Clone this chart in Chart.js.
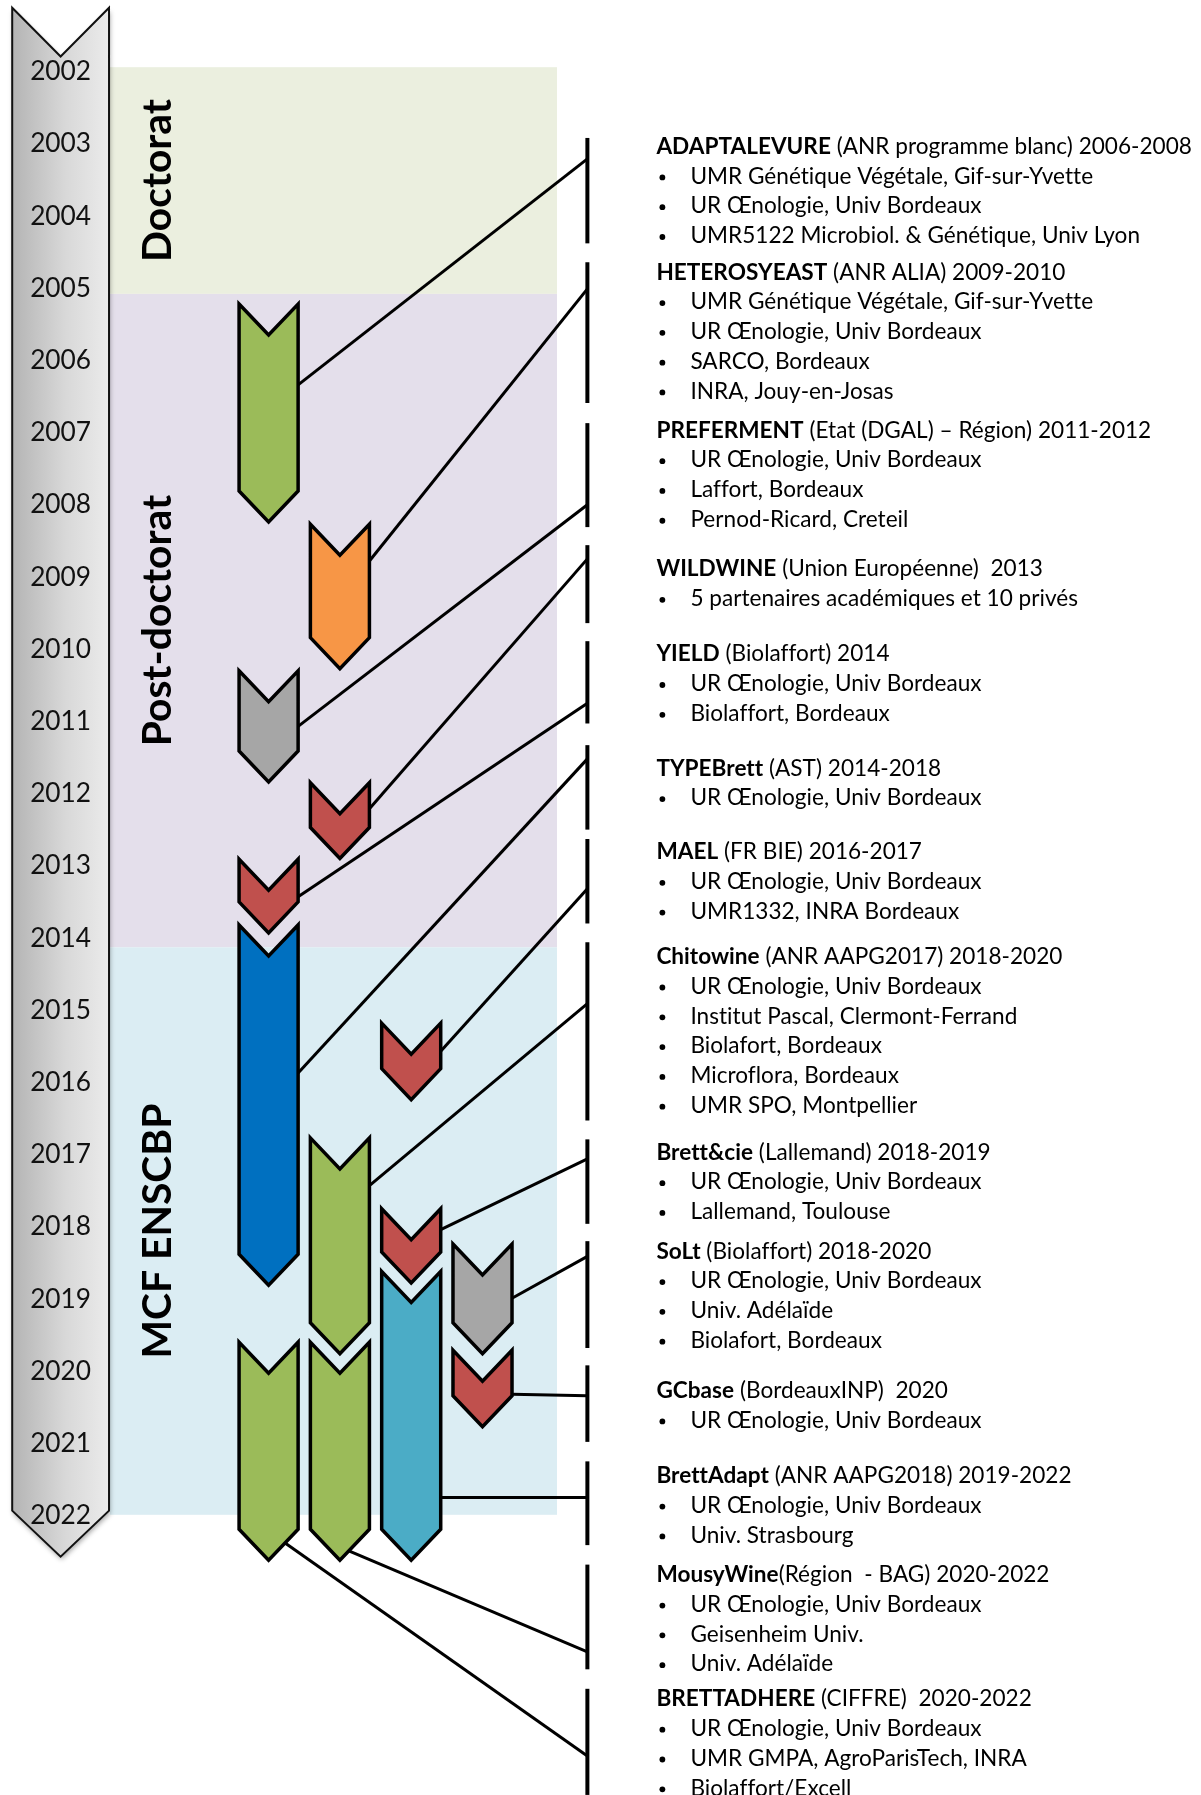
<!DOCTYPE html>
<html><head><meta charset="utf-8">
<script src="https://cdn.jsdelivr.net/npm/chart.js@4"></script>
<style>html,body{margin:0;padding:0;background:#fff}canvas{display:block}</style>
</head><body>
<canvas id="c" width="1201" height="1795" style="width:1201px;height:1795px"></canvas>
<script>
// ---------- data ----------
const yearTicks = [2002,2003,2004,2005,2006,2007,2008,2009,2010,2011,2012,2013,2014,2015,2016,2017,2018,2019,2020,2021,2022];

const phaseNames = ['Doctorat', 'Post-doctorat', 'MCF ENSCBP'];
const phaseFrom  = [2001.95, 2005.09, 2014.14];
const phaseTo    = [2005.09, 2014.14, 2022.0];

const projectNames = ['ADAPTALEVURE','HETEROSYEAST','PREFERMENT','WILDWINE','YIELD','TYPEBrett','MAEL','Chitowine','Brett&cie','SoLt','GCbase','BrettAdapt','MousyWine','BRETTADHERE'];
const projectInfo = [
  ' (ANR programme blanc) 2006-2008',
  ' (ANR ALIA) 2009-2010',
  ' (Etat (DGAL) \u2013 Région) 2011-2012',
  ' (Union Européenne)  2013',
  ' (Biolaffort) 2014',
  ' (AST) 2014-2018',
  ' (FR BIE) 2016-2017',
  ' (ANR AAPG2017) 2018-2020',
  ' (Lallemand) 2018-2019',
  ' (Biolaffort) 2018-2020',
  ' (BordeauxINP)  2020',
  ' (ANR AAPG2018) 2019-2022',
  '(Région  - BAG) 2020-2022',
  ' (CIFFRE)  2020-2022'
];
const projectPartners = [
  ['UMR Génétique Végétale, Gif-sur-Yvette','UR Œnologie, Univ Bordeaux','UMR5122 Microbiol. & Génétique, Univ Lyon'],
  ['UMR Génétique Végétale, Gif-sur-Yvette','UR Œnologie, Univ Bordeaux','SARCO, Bordeaux','INRA, Jouy-en-Josas'],
  ['UR Œnologie, Univ Bordeaux','Laffort, Bordeaux','Pernod-Ricard, Creteil'],
  ['5 partenaires académiques et 10 privés'],
  ['UR Œnologie, Univ Bordeaux','Biolaffort, Bordeaux'],
  ['UR Œnologie, Univ Bordeaux'],
  ['UR Œnologie, Univ Bordeaux','UMR1332, INRA Bordeaux'],
  ['UR Œnologie, Univ Bordeaux','Institut Pascal, Clermont-Ferrand','Biolafort, Bordeaux','Microflora, Bordeaux','UMR SPO, Montpellier'],
  ['UR Œnologie, Univ Bordeaux','Lallemand, Toulouse'],
  ['UR Œnologie, Univ Bordeaux','Univ. Adélaïde','Biolafort, Bordeaux'],
  ['UR Œnologie, Univ Bordeaux'],
  ['UR Œnologie, Univ Bordeaux','Univ. Strasbourg'],
  ['UR Œnologie, Univ Bordeaux','Geisenheim Univ.','Univ. Adélaïde'],
  ['UR Œnologie, Univ Bordeaux','UMR GMPA, AgroParisTech, INRA','Biolaffort/Excell']
];
// bar lane (column) and extent in years (top corners -> bottom tip)
const barLane = [0,1,0,1,0,0,2,1,2,3,3,2,1,0];
const barFrom = [2005.23,2008.28,2010.31,2011.86,2012.92,2013.83,2015.19,2016.78,2017.76,2018.25,2019.72,2018.63,2019.61,2019.61];
const barTo   = [2008.25,2010.28,2011.85,2012.91,2013.94,2018.82,2016.25,2019.77,2018.79,2019.77,2020.78,2022.63,2022.63,2022.63];
const barKind = ['green','orange','gray','red','red','blue','red','green','red','gray','red','teal','green','green'];
// connector: year where it leaves the bar, year where it meets the bracket
const linkFrom = [2006.35,2008.79,2011.08,2012.22,2013.44,2015.88,2015.58,2017.44,2018.05,2019.00,2020.33,2021.76,2022.50,2022.39];
const linkTo   = [2003.22,2005.02,2008.01,2008.76,2010.76,2011.53,2013.33,2014.92,2017.07,2018.42,2020.35,2021.76,2023.90,2025.34];
// bracket segment extent (years)
const segFrom = [2002.93,2004.65,2006.88,2008.57,2009.90,2011.34,2012.64,2014.07,2016.80,2018.21,2019.93,2021.26,2022.69,2024.41];
const segTo   = [2004.39,2006.60,2008.32,2009.65,2011.04,2012.51,2013.81,2016.54,2017.97,2019.69,2020.99,2022.42,2024.14,2025.88];
// title line position (years)
const titleAt = [2003.05,2004.79,2006.98,2008.90,2010.08,2011.66,2012.82,2014.27,2016.98,2018.35,2020.28,2021.46,2022.83,2024.55];

// ---------- styles ----------
const kindColor = {green:'#9BBB59', orange:'#F79646', gray:'#A6A6A6', red:'#C0504D', blue:'#0070C0', teal:'#4BACC6'};
const phaseColor = ['#EBEFDF', '#E4DFEB', '#DBEDF3'];
const FONT = 'Lato, "Open Sans", sans-serif';

function fitSize(ctx, text, weight, target) {
  ctx.font = weight + ' 100px ' + FONT;
  return 100 * target / ctx.measureText(text).width;
}

const diagram = {
  id: 'diagram',
  afterDraw(chart) {
    const ctx = chart.ctx, X = chart.scales.x, Y = chart.scales.y;
    const px = v => X.getPixelForValue(v), py = v => Y.getPixelForValue(v);
    const half = px(0.414) - px(0);
    const depth = 31;
    ctx.save();

    // phase bands
    phaseNames.forEach((n, i) => {
      ctx.fillStyle = phaseColor[i];
      const t = py(phaseFrom[i]), b = py(phaseTo[i]);
      ctx.fillRect(px(-2.224), t, px(4.045) - px(-2.224), b - t);
    });

    // phase labels (rotated)
    const rs = fitSize(ctx, 'Doctorat', 'bold', 163);
    ctx.fillStyle = '#000';
    phaseNames.forEach((n, i) => {
      ctx.save();
      ctx.translate(px(-1.551), py((phaseFrom[i] + phaseTo[i]) / 2));
      ctx.rotate(-Math.PI / 2);
      ctx.textAlign = 'center'; ctx.textBaseline = 'middle';
      ctx.font = 'bold ' + rs + 'px ' + FONT;
      ctx.fillText(n, 0, 0);
      ctx.restore();
    });

    // timeline arrow
    const L = px(-3.596), R = px(-2.238), C = (L + R) / 2;
    const tTop = py(2001.126), tNotch = py(2001.803), tEnd = py(2021.943), tTip = py(2022.579);
    ctx.save();
    ctx.beginPath();
    ctx.moveTo(L, tTop); ctx.lineTo(C, tNotch); ctx.lineTo(R, tTop);
    ctx.lineTo(R, tEnd); ctx.lineTo(C, tTip); ctx.lineTo(L, tEnd); ctx.closePath();
    const g = ctx.createLinearGradient(L, 0, R, 0);
    g.addColorStop(0, '#B4B4B4'); g.addColorStop(0.55, '#D8D8D8'); g.addColorStop(1, '#EBEBEB');
    ctx.shadowColor = 'rgba(0,0,0,0.35)'; ctx.shadowBlur = 5; ctx.shadowOffsetX = 1; ctx.shadowOffsetY = 3;
    ctx.fillStyle = g; ctx.fill();
    ctx.shadowColor = 'transparent';
    ctx.lineWidth = 2; ctx.strokeStyle = '#111'; ctx.lineJoin = 'miter'; ctx.stroke();
    ctx.restore();

    // year labels
    const ys = fitSize(ctx, '2002', 'normal', 61);
    ctx.font = ys + 'px ' + FONT; ctx.fillStyle = '#111';
    ctx.textAlign = 'center'; ctx.textBaseline = 'middle';
    yearTicks.forEach(y => ctx.fillText(String(y), C, py(y) + 1));

    // connectors
    const lineX = px(4.471);
    ctx.strokeStyle = '#000'; ctx.lineWidth = 3; ctx.lineCap = 'butt';
    projectNames.forEach((n, i) => {
      const c = px(barLane[i]), B = py(barTo[i]);
      const y0 = py(linkFrom[i]);
      let x0 = c + half;
      if (y0 > B - depth) x0 = c + half * (B - y0) / depth;
      ctx.beginPath(); ctx.moveTo(x0, y0); ctx.lineTo(lineX, py(linkTo[i])); ctx.stroke();
    });

    // chevron bars
    ctx.lineWidth = 3.5; ctx.lineJoin = 'miter'; ctx.strokeStyle = '#000';
    projectNames.forEach((n, i) => {
      const c = px(barLane[i]), T = py(barFrom[i]), B = py(barTo[i]);
      ctx.beginPath();
      ctx.moveTo(c - half, T); ctx.lineTo(c, T + depth); ctx.lineTo(c + half, T);
      ctx.lineTo(c + half, B - depth); ctx.lineTo(c, B); ctx.lineTo(c - half, B - depth);
      ctx.closePath();
      ctx.fillStyle = kindColor[barKind[i]]; ctx.fill(); ctx.stroke();
    });

    // bracket segments
    ctx.lineWidth = 4;
    projectNames.forEach((n, i) => {
      ctx.beginPath(); ctx.moveTo(lineX, py(segFrom[i])); ctx.lineTo(lineX, py(segTo[i])); ctx.stroke();
    });

    // texts (a tiny letter spacing stops Lato's "ti"/"ff" ligatures)
    if ('letterSpacing' in ctx) ctx.letterSpacing = '0.02px';
    const fs = fitSize(ctx, 'UR Œnologie, Univ Bordeaux', 'normal', 291);
    const LINE_H = 29.8;
    const tx = lineX + 69, bx = lineX + 75, ptx = lineX + 103;
    ctx.textAlign = 'left'; ctx.textBaseline = 'middle'; ctx.fillStyle = '#000';
    projectNames.forEach((name, i) => {
      const y = py(titleAt[i]);
      ctx.font = 'bold ' + fs + 'px ' + FONT;
      ctx.fillText(name, tx, y);
      const w = ctx.measureText(name).width;
      ctx.font = fs + 'px ' + FONT;
      ctx.fillText(projectInfo[i], tx + w, y);
      projectPartners[i].forEach((p, j) => {
        const yy = y + (j + 1) * LINE_H;
        ctx.beginPath(); ctx.arc(bx, yy + 1, 2.9, 0, Math.PI * 2); ctx.fill();
        ctx.fillText(p, ptx, yy);
      });
    });
    ctx.restore();
  }
};

const yTop = 2002 - 70.8 / 72.2;
const yBot = 2002 + (1795 - 70.8) / 72.2;
const xMin = -268.6 / 71.3, xMax = (1201 - 268.6) / 71.3;

new Chart(document.getElementById('c').getContext('2d'), {
  type: 'scatter',
  data: { datasets: [{ data: [], pointRadius: 0 }] },
  options: {
    responsive: false, animation: false, devicePixelRatio: 1,
    layout: { padding: 0 },
    plugins: { legend: { display: false }, tooltip: { enabled: false } },
    scales: {
      x: { type: 'linear', display: false, min: xMin, max: xMax },
      y: { type: 'linear', display: false, reverse: true, min: yTop, max: yBot }
    }
  },
  plugins: [diagram]
});
</script>
</body></html>
